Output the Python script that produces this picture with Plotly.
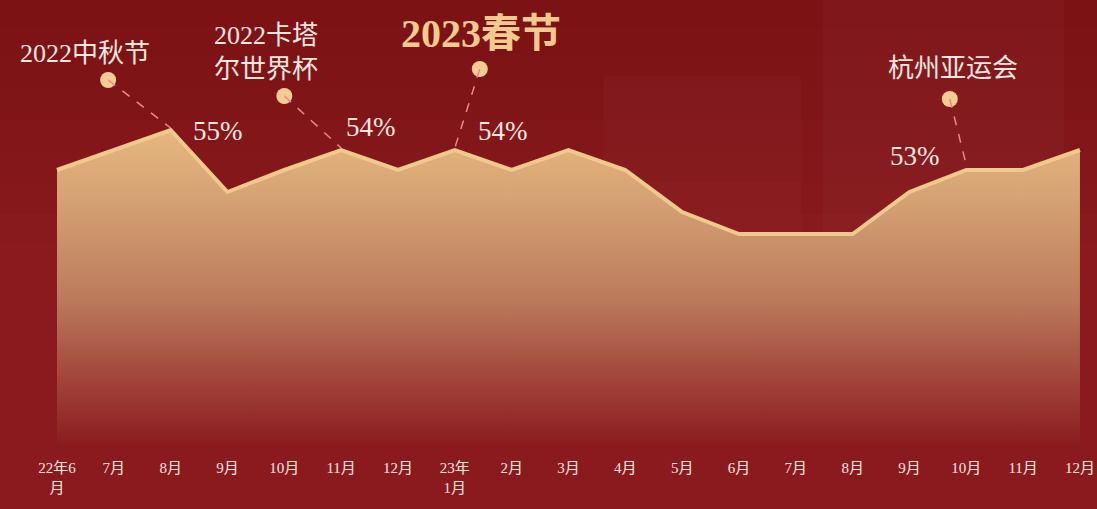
import plotly.graph_objects as go

# ---- data ----
months = ["22年6<br>月", "7月", "8月", "9月", "10月", "11月", "12月", "23年<br>1月", "2月", "3月",
          "4月", "5月", "6月", "7月", "8月", "9月", "10月", "11月", "12月"]
values = [53.0, 54.0, 55.0, 51.9, 53.0, 54.0, 53.0, 54.0, 53.0, 54.0,
          53.0, 50.9, 49.8, 49.8, 49.8, 51.9, 53.0, 53.0, 54.0]

pct_labels = [(2, "55%"), (5, "54%"), (7, "54%"), (16, "53%")]
events = ["2022中秋节", "2022卡塔<br>尔世界杯", "2023春节", "杭州亚运会"]
event_idx = [2, 5, 7, 16]

x = list(range(len(values)))
YMIN, YMAX = 39.25, 61.5

SERIF = "Liberation Serif, DejaVu Serif, Noto Sans CJK SC"
TXT = "#f6e6e0"
GOLD = "#f2c98e"

fig = go.Figure()

fig.add_trace(go.Scatter(
    x=x, y=[YMIN] * len(x), mode="lines", line=dict(width=0),
    hoverinfo="skip", showlegend=False))
fig.add_trace(go.Scatter(
    x=x, y=values, mode="lines", fill="tonexty",
    line=dict(color="#f0c98c", width=4),
    fillgradient=dict(type="vertical", start=YMIN, stop=55,
                      colorscale=[[0, "#8b1c1f"], [0.2, "#a0433a"], [0.46, "#bb7a5b"],
                                  [0.78, "#d5a274"], [1, "#e6b77e"]]),
    showlegend=False))

shapes = []
annotations = []

# background shading: soft darkening toward the top, subtle panels
for k in range(8):
    shapes.append(dict(type="rect", xref="paper", yref="paper", x0=0, x1=1,
                       y0=0.45 + k * 0.07, y1=1.2,
                       fillcolor="rgba(80,0,5,0.022)", line_width=0, layer="below"))
shapes.append(dict(type="rect", xref="paper", yref="paper", x0=0.55, x1=0.73, y0=0.0, y1=0.83,
                   fillcolor="rgba(255,255,255,0.018)", line_width=0, layer="below"))
shapes.append(dict(type="rect", xref="paper", yref="paper", x0=0.75, x1=0.97, y0=0.0, y1=1.0,
                   fillcolor="rgba(255,255,255,0.022)", line_width=0, layer="below"))

# event dots (offset from the data point they point at)
offsets = [(-1.1, 2.5), (-1.0, 2.7), (0.44, 4.05), (-0.29, 3.55)]
dot_x, dot_y = [], []
for i, (dx, dy) in zip(event_idx, offsets):
    px, py = i + dx, values[i] + dy
    dot_x.append(px)
    dot_y.append(py)
    ex, ey = i, values[i] + (0.25 if i == 16 else 0.1)
    shapes.append(dict(type="line", xref="x", yref="y", x0=px, y0=py, x1=ex, y1=ey,
                       line=dict(color="#e98a86", width=1.5, dash="dash")))

fig.add_trace(go.Scatter(x=dot_x, y=dot_y, mode="markers",
                         marker=dict(size=16, color="#f5cc95"), showlegend=False, hoverinfo="skip"))

# event titles
title_pos = [(0.49, 58.85, 26, TXT, 0), (3.68, 58.9, 26, TXT, 0),
             (7.46, 59.85, 40, GOLD, 1), (15.76, 58.1, 26, TXT, 0)]
for t, (tx, ty, sz, col, bold) in zip(events, title_pos):
    annotations.append(dict(x=tx, y=ty, xref="x", yref="y",
                            text=f"<b>{t}</b>" if bold else t, showarrow=False,
                            font=dict(family=SERIF, size=sz, color=col), align="center"))

# percent labels
pct_off = [(0.83, -0.05), (0.52, 1.15), (0.85, 0.95), (-0.9, 0.7)]
for (i, t), (dx, dy) in zip(pct_labels, pct_off):
    annotations.append(dict(x=i + dx, y=values[i] + dy, xref="x", yref="y", text=t, showarrow=False,
                            font=dict(family=SERIF, size=27, color=TXT)))

fig.update_layout(
    width=1097, height=509,
    margin=dict(l=0, r=0, t=0, b=64),
    paper_bgcolor="#8a1a1d",
    plot_bgcolor="rgba(0,0,0,0)",
    shapes=shapes, annotations=annotations,
    xaxis=dict(range=[-1.003, 18.3], tickmode="array", tickvals=x, ticktext=months,
               showgrid=False, zeroline=False, showline=False, ticks="",
               tickfont=dict(family=SERIF, size=15, color=TXT), ticklabelstandoff=12),
    yaxis=dict(range=[YMIN, YMAX], visible=False, showgrid=False, zeroline=False),
)

fig.write_html("out.html")
